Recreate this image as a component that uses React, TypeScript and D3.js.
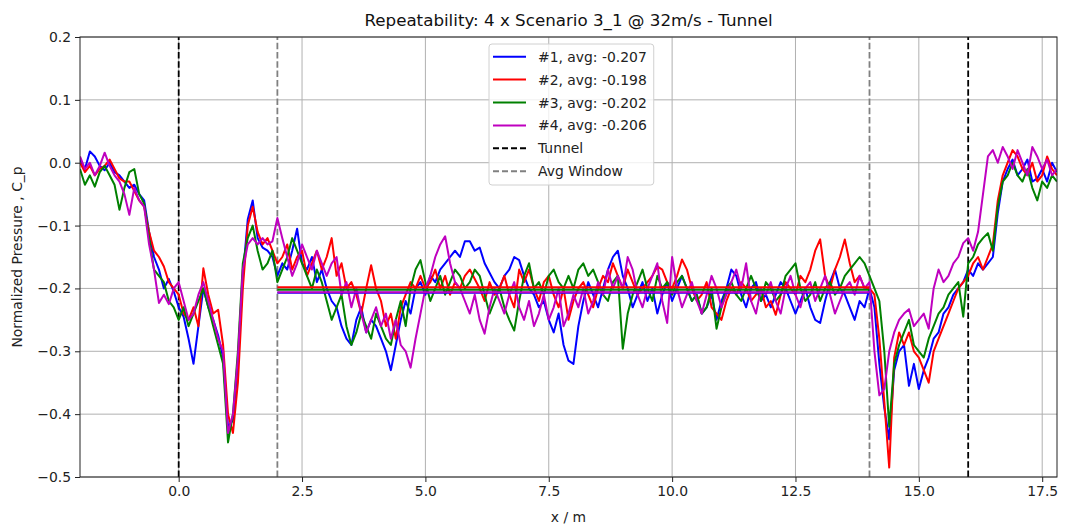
import React, { useEffect, useRef } from "react";
import * as d3 from "d3";

// samples every 0.1 m starting at x = -2.0
const X_START = -2.0;
const X_STEP = 0.1;

const run1 = [
  0.005, -0.010, 0.018, 0.010, -0.005, -0.012, 0.000, -0.015, -0.020, -0.030,
  -0.040, -0.035, -0.050, -0.060, -0.110, -0.150, -0.170, -0.200, -0.185, -0.205,
  -0.230, -0.245, -0.280, -0.320, -0.260, -0.200, -0.230, -0.250, -0.275, -0.310,
  -0.420, -0.410, -0.320, -0.180, -0.090, -0.060, -0.120, -0.135, -0.140, -0.150,
  -0.180, -0.160, -0.170, -0.140, -0.105, -0.160, -0.170, -0.150, -0.190, -0.170,
  -0.200, -0.220, -0.230, -0.260, -0.280, -0.290, -0.250, -0.230, -0.270, -0.250,
  -0.260, -0.280, -0.300, -0.330, -0.290, -0.250, -0.220, -0.240, -0.200, -0.190,
  -0.210, -0.180, -0.190, -0.170, -0.160, -0.150, -0.140, -0.150, -0.125, -0.125,
  -0.140, -0.135, -0.160, -0.175, -0.190, -0.200, -0.180, -0.170, -0.150, -0.155,
  -0.180, -0.200, -0.210, -0.230, -0.220, -0.250, -0.270, -0.240, -0.290, -0.315,
  -0.320, -0.260, -0.220, -0.190, -0.210, -0.230, -0.200, -0.170, -0.150, -0.140,
  -0.180, -0.200, -0.230, -0.210, -0.190, -0.220, -0.200, -0.240, -0.210, -0.190,
  -0.220, -0.200, -0.180, -0.200, -0.220, -0.210, -0.240, -0.230, -0.210, -0.250,
  -0.220, -0.200, -0.170, -0.180, -0.210, -0.230, -0.200, -0.190, -0.220, -0.210,
  -0.230, -0.210, -0.190, -0.200, -0.220, -0.240, -0.220, -0.200, -0.230, -0.250,
  -0.255, -0.220, -0.190, -0.170, -0.200, -0.210, -0.230, -0.250, -0.220, -0.230,
  -0.200, -0.230, -0.320, -0.390, -0.440, -0.330, -0.300, -0.290, -0.355, -0.320,
  -0.360, -0.330, -0.310, -0.280, -0.270, -0.240, -0.230, -0.210, -0.200, -0.190,
  -0.170, -0.180, -0.160, -0.170, -0.160, -0.150, -0.080, -0.030, -0.010, 0.005,
  -0.020, -0.010, 0.005, -0.030, -0.025, -0.010, -0.030, 0.000, -0.015,
];

const run2 = [
  0.000, -0.015, -0.005, -0.020, -0.010, -0.005, 0.005, -0.010, -0.025, -0.030,
  -0.030, -0.045, -0.060, -0.070, -0.110, -0.140, -0.150, -0.165, -0.190, -0.200,
  -0.210, -0.240, -0.250, -0.230, -0.260, -0.168, -0.210, -0.240, -0.234, -0.290,
  -0.400, -0.430, -0.350, -0.200, -0.100, -0.070, -0.110, -0.130, -0.120, -0.140,
  -0.160, -0.150, -0.130, -0.170, -0.150, -0.140, -0.180, -0.160, -0.140, -0.170,
  -0.150, -0.120, -0.180, -0.160, -0.200, -0.190, -0.210, -0.240, -0.200, -0.163,
  -0.200, -0.220, -0.260, -0.240, -0.280, -0.230, -0.210, -0.190, -0.200, -0.180,
  -0.200, -0.190, -0.170, -0.200, -0.180, -0.210, -0.190, -0.200, -0.180, -0.170,
  -0.185, -0.200, -0.220, -0.190, -0.210, -0.200, -0.180, -0.210, -0.230, -0.170,
  -0.190, -0.170, -0.200, -0.220, -0.190, -0.180, -0.210, -0.230, -0.200, -0.250,
  -0.220, -0.200, -0.190, -0.210, -0.230, -0.200, -0.180, -0.190, -0.160, -0.180,
  -0.200, -0.170, -0.190, -0.210, -0.200, -0.190, -0.180, -0.165, -0.170, -0.190,
  -0.200, -0.180, -0.154, -0.170, -0.200, -0.220, -0.210, -0.190, -0.230, -0.240,
  -0.250, -0.220, -0.200, -0.210, -0.190, -0.200, -0.220, -0.210, -0.200, -0.230,
  -0.220, -0.242, -0.210, -0.190, -0.200, -0.210, -0.180, -0.190, -0.170, -0.140,
  -0.122, -0.180, -0.200, -0.170, -0.150, -0.122, -0.160, -0.190, -0.180, -0.200,
  -0.200, -0.210, -0.280, -0.380, -0.485, -0.310, -0.270, -0.290, -0.270, -0.300,
  -0.310, -0.330, -0.350, -0.300, -0.280, -0.260, -0.240, -0.220, -0.200, -0.190,
  -0.180, -0.160, -0.150, -0.170, -0.150, -0.130, -0.060, -0.020, 0.000, 0.020,
  0.010, -0.010, -0.020, 0.000, -0.030, -0.020, 0.010, -0.010, -0.020,
];

const run3 = [
  -0.010, -0.035, -0.020, -0.038, -0.015, -0.005, -0.020, -0.035, -0.075, -0.040,
  -0.015, -0.010, -0.050, -0.065, -0.120, -0.170, -0.180, -0.190, -0.220, -0.230,
  -0.250, -0.230, -0.260, -0.240, -0.220, -0.200, -0.230, -0.260, -0.290, -0.320,
  -0.445, -0.400, -0.300, -0.160, -0.120, -0.100, -0.140, -0.170, -0.160, -0.140,
  -0.190, -0.170, -0.150, -0.120, -0.140, -0.160, -0.180, -0.200, -0.170, -0.190,
  -0.220, -0.250, -0.230, -0.210, -0.260, -0.290, -0.270, -0.240, -0.260, -0.280,
  -0.240, -0.260, -0.280, -0.290, -0.250, -0.220, -0.260, -0.200, -0.170, -0.155,
  -0.190, -0.220, -0.200, -0.180, -0.210, -0.190, -0.170, -0.180, -0.200, -0.190,
  -0.170, -0.180, -0.210, -0.240, -0.220, -0.200, -0.230, -0.250, -0.267, -0.220,
  -0.180, -0.160, -0.200, -0.190, -0.210, -0.180, -0.170, -0.190, -0.200, -0.180,
  -0.200, -0.170, -0.160, -0.180, -0.170, -0.190, -0.210, -0.220, -0.190, -0.180,
  -0.296, -0.240, -0.210, -0.190, -0.170, -0.200, -0.220, -0.180, -0.200, -0.190,
  -0.210, -0.190, -0.180, -0.200, -0.220, -0.210, -0.240, -0.230, -0.200, -0.264,
  -0.230, -0.200, -0.190, -0.210, -0.220, -0.200, -0.180, -0.200, -0.220, -0.190,
  -0.200, -0.220, -0.210, -0.180, -0.170, -0.160, -0.200, -0.220, -0.210, -0.190,
  -0.220, -0.200, -0.190, -0.210, -0.200, -0.180, -0.170, -0.160, -0.150, -0.160,
  -0.180, -0.200, -0.220, -0.300, -0.420, -0.320, -0.290, -0.270, -0.250, -0.290,
  -0.300, -0.310, -0.280, -0.260, -0.240, -0.230, -0.210, -0.200, -0.190, -0.245,
  -0.160, -0.150, -0.130, -0.120, -0.112, -0.140, -0.070, -0.030, -0.020, 0.000,
  -0.020, -0.030, -0.010, -0.040, -0.060, -0.030, -0.040, -0.020, -0.030,
];

const run4 = [
  0.010, -0.010, 0.000, -0.020, -0.005, 0.016, -0.005, -0.020, -0.030, -0.050,
  -0.083, -0.040, -0.060, -0.070, -0.130, -0.170, -0.223, -0.210, -0.225, -0.200,
  -0.190, -0.220, -0.250, -0.240, -0.210, -0.190, -0.220, -0.250, -0.280, -0.300,
  -0.430, -0.400, -0.310, -0.170, -0.130, -0.120, -0.130, -0.120, -0.130, -0.125,
  -0.088, -0.120, -0.150, -0.180, -0.160, -0.130, -0.150, -0.170, -0.140, -0.160,
  -0.180, -0.160, -0.150, -0.210, -0.190, -0.230, -0.200, -0.240, -0.270, -0.250,
  -0.230, -0.260, -0.240, -0.280, -0.250, -0.290, -0.300, -0.326, -0.280, -0.240,
  -0.200, -0.180, -0.150, -0.130, -0.117, -0.160, -0.190, -0.200, -0.220, -0.240,
  -0.210, -0.250, -0.272, -0.230, -0.200, -0.220, -0.240, -0.210, -0.190, -0.230,
  -0.250, -0.220, -0.260, -0.240, -0.210, -0.250, -0.230, -0.200, -0.260, -0.240,
  -0.210, -0.230, -0.200, -0.240, -0.220, -0.190, -0.210, -0.170, -0.200, -0.180,
  -0.200, -0.150, -0.170, -0.210, -0.230, -0.200, -0.180, -0.160, -0.220, -0.255,
  -0.150, -0.200, -0.230, -0.210, -0.190, -0.220, -0.240, -0.210, -0.180, -0.200,
  -0.230, -0.210, -0.190, -0.170, -0.200, -0.160, -0.220, -0.240, -0.200, -0.210,
  -0.190, -0.220, -0.240, -0.200, -0.180, -0.210, -0.230, -0.200, -0.190, -0.220,
  -0.200, -0.180, -0.210, -0.240, -0.220, -0.200, -0.190, -0.210, -0.180, -0.200,
  -0.190, -0.300, -0.370, -0.360, -0.300, -0.270, -0.250, -0.240, -0.233, -0.260,
  -0.250, -0.240, -0.264, -0.200, -0.170, -0.190, -0.180, -0.160, -0.150, -0.128,
  -0.120, -0.140, -0.110, -0.050, 0.010, 0.020, 0.000, 0.025, 0.010, -0.010,
  0.020, 0.000, -0.020, 0.025, 0.010, -0.010, 0.005, -0.020, -0.010,
];

const seriesValues = [run1, run2, run3, run4];
const seriesNames = ["#1", "#2", "#3", "#4"];
const seriesAvgs = [-0.207, -0.198, -0.202, -0.206];
const seriesColors = ["#0000ff", "#ff0000", "#008000", "#bf00bf"];

const tunnelLines = [0, 16];
const avgWindow = [2, 14];

const xTicks = [0, 2.5, 5, 7.5, 10, 12.5, 15, 17.5];
const yTicks = [-0.5, -0.4, -0.3, -0.2, -0.1, 0.0, 0.1, 0.2];

export default function App() {
  const ref = useRef<SVGSVGElement>(null);

  useEffect(() => {
    const width = 1069;
    const height = 528;
    const margin = { top: 37, right: 12, bottom: 51, left: 80 };
    const font = "DejaVu Sans, sans-serif";
    const fs = 13.9;

    const svg = d3.select(ref.current);
    svg.selectAll("*").remove();

    const x = d3.scaleLinear()
      .domain([-2, 17.8])
      .range([margin.left, width - margin.right]);
    const y = d3.scaleLinear()
      .domain([-0.5, 0.2])
      .range([height - margin.bottom, margin.top]);

    const fmt = (v: number) => d3.format(".1f")(v).replace("-", "\u2212");

    // grid
    const grid = svg.append("g");
    grid.selectAll("line.gx")
      .data(xTicks)
      .join("line")
        .attr("x1", d => x(d)).attr("x2", d => x(d))
        .attr("y1", y(-0.5)).attr("y2", y(0.2))
        .attr("stroke", "#b0b0b0").attr("stroke-width", 1);
    grid.selectAll("line.gy")
      .data(yTicks)
      .join("line")
        .attr("x1", x(-2)).attr("x2", x(17.8))
        .attr("y1", d => y(d)).attr("y2", d => y(d))
        .attr("stroke", "#b0b0b0").attr("stroke-width", 1);

    // vertical markers
    const marks = svg.append("g");
    marks.selectAll("line.tun")
      .data(tunnelLines)
      .join("line")
        .attr("x1", d => x(d)).attr("x2", d => x(d))
        .attr("y1", y(-0.5)).attr("y2", y(0.2))
        .attr("stroke", "#000").attr("stroke-width", 1.8)
        .attr("stroke-dasharray", "6.5,2.8");
    marks.selectAll("line.win")
      .data(avgWindow)
      .join("line")
        .attr("x1", d => x(d)).attr("x2", d => x(d))
        .attr("y1", y(-0.5)).attr("y2", y(0.2))
        .attr("stroke", "#808080").attr("stroke-width", 1.8)
        .attr("stroke-dasharray", "6.5,2.8");

    // series
    const line = d3.line<number>()
      .x((d, i) => x(X_START + i * X_STEP))
      .y(d => y(d));

    svg.append("defs").append("clipPath").attr("id", "plotclip")
      .append("rect")
        .attr("x", margin.left).attr("y", margin.top)
        .attr("width", width - margin.left - margin.right)
        .attr("height", height - margin.top - margin.bottom);

    const plot = svg.append("g").attr("clip-path", "url(#plotclip)");
    plot.selectAll("path.series")
      .data(seriesValues)
      .join("path")
        .attr("fill", "none")
        .attr("stroke", (d, i) => seriesColors[i])
        .attr("stroke-width", 2)
        .attr("stroke-linejoin", "round")
        .attr("d", d => line(d));

    plot.selectAll("line.avg")
      .data(seriesAvgs)
      .join("line")
        .attr("x1", x(avgWindow[0])).attr("x2", x(avgWindow[1]))
        .attr("y1", d => y(d)).attr("y2", d => y(d))
        .attr("stroke", (d, i) => seriesColors[i])
        .attr("stroke-width", 2);

    // axes
    const xAxis = svg.append("g")
      .attr("transform", `translate(0,${height - margin.bottom})`)
      .call(d3.axisBottom(x).tickValues(xTicks).tickFormat(d => fmt(+d)).tickSizeOuter(0).tickSize(5).tickPadding(4));
    const yAxis = svg.append("g")
      .attr("transform", `translate(${margin.left},0)`)
      .call(d3.axisLeft(y).tickValues(yTicks).tickFormat(d => fmt(+d)).tickSizeOuter(0).tickSize(5).tickPadding(4));
    [xAxis, yAxis].forEach(a => {
      a.selectAll("text").attr("font-family", font).attr("font-size", fs).attr("fill", "#222");
      a.selectAll("line").attr("stroke", "#222");
      a.select(".domain").remove();
    });

    // frame
    svg.append("rect")
      .attr("x", margin.left).attr("y", margin.top)
      .attr("width", width - margin.left - margin.right)
      .attr("height", height - margin.top - margin.bottom)
      .attr("fill", "none").attr("stroke", "#222").attr("stroke-width", 1);

    // titles
    svg.append("text")
      .attr("x", (margin.left + width - margin.right) / 2).attr("y", 26)
      .attr("text-anchor", "middle").attr("font-family", font).attr("font-size", 16.7)
      .attr("fill", "#111")
      .text("Repeatability: 4 x Scenario 3_1 @ 32m/s - Tunnel");
    svg.append("text")
      .attr("x", (margin.left + width - margin.right) / 2).attr("y", 522)
      .attr("text-anchor", "middle").attr("font-family", font).attr("font-size", fs)
      .attr("fill", "#222")
      .text("x / m");
    svg.append("text")
      .attr("transform", `translate(22,${(margin.top + height - margin.bottom) / 2}) rotate(-90)`)
      .attr("text-anchor", "middle").attr("font-family", font).attr("font-size", fs)
      .attr("fill", "#222")
      .text("Normalized Pressure , C_p");

    // legend
    const legendItems = [
      ...seriesNames.map((n, i) => ({ label: `${n}, avg: ${seriesAvgs[i].toFixed(3)}`, color: seriesColors[i], dash: null as string | null })),
      { label: "Tunnel", color: "#000", dash: "6,3" },
      { label: "Avg Window", color: "#808080", dash: "6,3" },
    ];
    const lg = svg.append("g").attr("transform", "translate(489,44)");
    const box = lg.append("rect")
      .attr("height", 141).attr("rx", 3)
      .attr("fill", "white").attr("fill-opacity", 0.8)
      .attr("stroke", "#d0d0d0").attr("stroke-width", 1);
    const rows = lg.selectAll("g.row")
      .data(legendItems)
      .join("g")
        .attr("transform", (d, i) => `translate(0,${12.7 + i * 22.9})`);
    rows.append("line")
      .attr("x1", 4).attr("x2", 37).attr("y1", 0).attr("y2", 0)
      .attr("stroke", d => d.color).attr("stroke-width", 2)
      .attr("stroke-dasharray", d => d.dash);
    const labels = rows.append("text")
      .attr("x", 49).attr("y", 5)
      .attr("font-family", font).attr("font-size", fs).attr("fill", "#222")
      .text(d => d.label);
    let maxW = 0;
    labels.each(function () {
      maxW = Math.max(maxW, (this as SVGTextElement).getComputedTextLength());
    });
    box.attr("width", 49 + maxW + 7);
  }, []);

  return (
    <svg
      ref={ref}
      width={1069}
      height={528}
      style={{ position: "absolute", left: 0, top: 0, background: "white" }}
    />
  );
}
